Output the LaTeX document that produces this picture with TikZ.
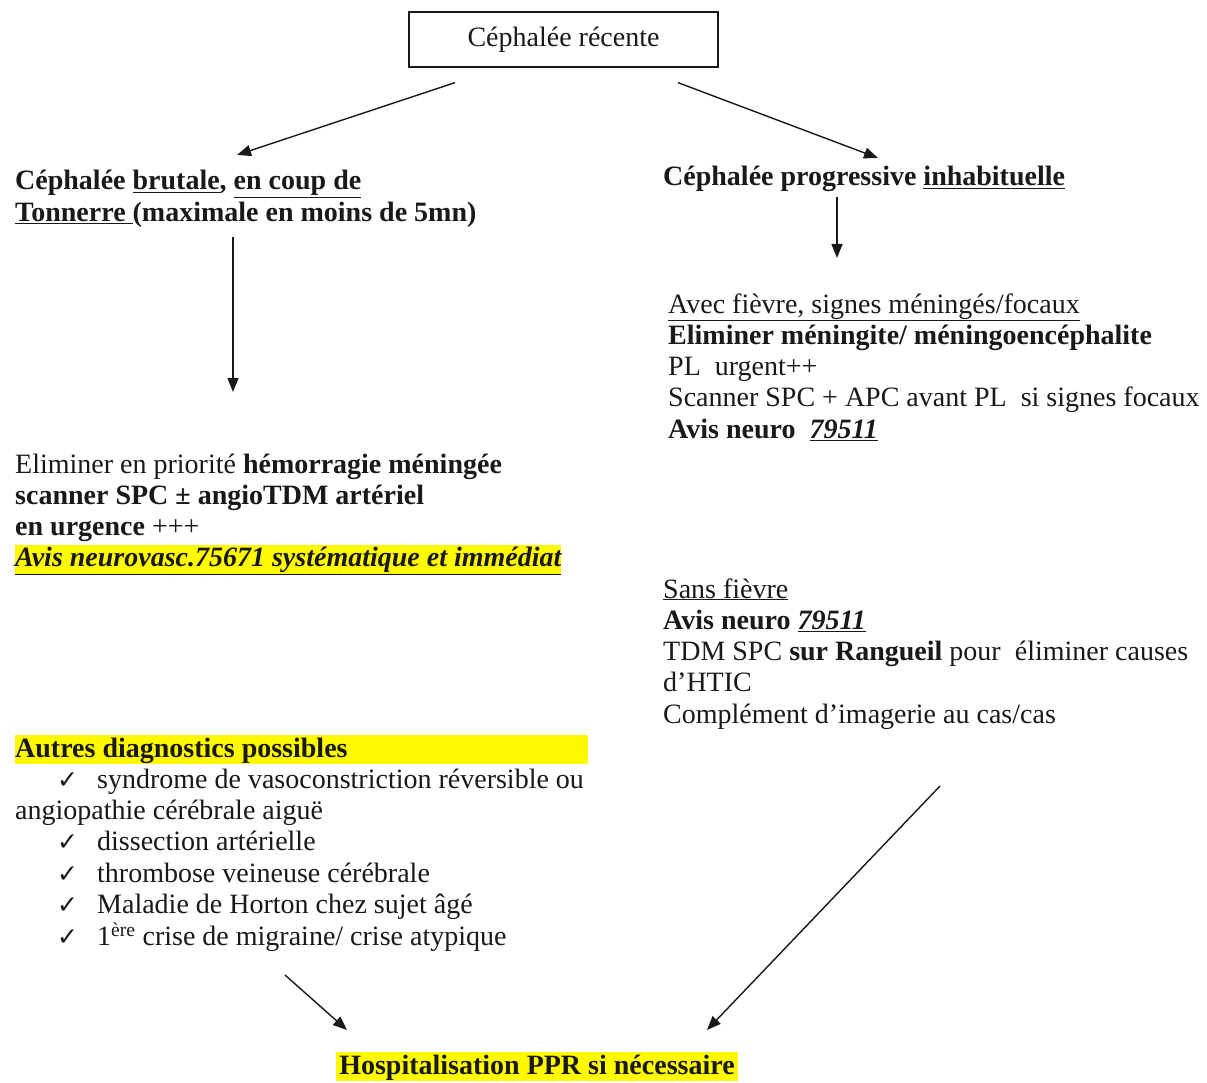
\documentclass[tikz,border=0pt]{standalone}
\usepackage{fontspec}
\setmainfont{Liberation Serif}
\newfontfamily\symfont{DejaVu Sans}
\usetikzlibrary{arrows.meta}
\definecolor{hlyellow}{RGB}{255,250,0}
\definecolor{ink}{RGB}{25,25,25}
% highlighted line
\newcommand\hlline[1]{{\setlength\fboxsep{0pt}\colorbox{hlyellow}{\rule[-7pt]{0pt}{29pt}#1}}}
% check-mark item
\newcommand\chk{\hspace*{42pt}\makebox[40pt][l]{\symfont\fontsize{25}{25}\selectfont ✓}}
\newcommand\blk[1]{\begin{tabular}[t]{@{}l@{}}#1\end{tabular}}
\begin{document}
\begin{tikzpicture}[x=1pt,y=-1pt,
  txt/.style={inner sep=0pt, anchor=base west, text=ink, font=\fontsize{28}{31.3}\selectfont},
  arr/.style={draw=ink, line width=1.4pt, -{Triangle[length=14pt,width=11pt]}}]
\useasboundingbox (0,0) rectangle (1207,1083);
\fill[white] (0,0) rectangle (1207,1083);

% top box
\node[draw=ink, line width=1.3pt, minimum width=309pt, minimum height=55pt, inner sep=0pt,
      text=ink, font=\fontsize{28}{31.3}\selectfont] (top) at (563.5,39.5) {Céphalée récente};

% sudden headache
\node[txt] (brut) at (15,190) {\blk{%
  \textbf{Céphalée \underline{brutale}, \underline{en coup de}}\\
  \textbf{\underline{Tonnerre\ }(maximale en moins de 5mn)}}};

% progressive headache
\node[txt] (prog) at (663,186) {\textbf{Céphalée progressive \underline{inhabituelle}}};

% with fever
\node[txt] (fievre) at (668,313) {\blk{%
  \underline{Avec fièvre, signes méningés/focaux}\\
  \textbf{Eliminer méningite/ méningoencéphalite}\\
  PL\ \ urgent++\\
  Scanner SPC + APC avant PL\ \ si signes focaux\\
  \textbf{Avis neuro\ \ \underline{\textit{79511}}}}};

% subarachnoid haemorrhage work-up
\node[txt] (hem) at (15,473) {\blk{%
  Eliminer en priorité \textbf{hémorragie méningée}\\
  \textbf{scanner SPC ± angioTDM artériel}\\
  \textbf{en urgence} +++\\
  \hlline{\textbf{\textit{\underline{Avis neurovasc.75671 systématique et immédiat}}}}}};

% without fever
\node[txt] (sans) at (663,598) {\blk{%
  \underline{Sans fièvre}\\
  \textbf{Avis neuro \underline{\textit{79511}}}\\
  TDM SPC \textbf{sur Rangueil} pour\ \ éliminer causes\\
  d’HTIC\\
  Complément d’imagerie au cas/cas}};

% differential diagnoses
\node[txt] (autres) at (15,757) {\blk{%
  \hlline{\makebox[573pt][l]{\textbf{Autres diagnostics possibles}}}\\
  \chk syndrome de vasoconstriction réversible ou\\
  angiopathie cérébrale aiguë\\
  \chk dissection artérielle\\
  \chk thrombose veineuse cérébrale\\
  \chk Maladie de Horton chez sujet âgé\\
  \chk 1\textsuperscript{ère} crise de migraine/ crise atypique}};

% hospitalisation
\node[inner sep=0pt, anchor=base, text=ink, font=\fontsize{28}{31.3}\selectfont] (hosp) at (537,1074)
  {\hlline{\hspace*{3pt}\textbf{Hospitalisation PPR si nécessaire}\hspace*{3pt}}};

% connectors
\draw[arr] ([xshift=-108.5pt,yshift=-15pt]top.south) -- ([xshift=222pt,yshift=35pt]brut.base west);
\draw[arr] ([xshift=114.5pt,yshift=-15pt]top.south) -- ([xshift=215pt,yshift=28pt]prog.base west);
\draw[arr] ([xshift=218pt,yshift=-47pt]brut.base west) -- ([xshift=218pt,yshift=81pt]hem.base west);
\draw[arr] ([xshift=174pt,yshift=-11pt]prog.base west) -- ([xshift=169pt,yshift=55pt]fievre.base west);
\draw[arr] ([xshift=270pt,yshift=-218pt]autres.base west) -- ([xshift=-190pt,yshift=44pt]hosp.base);
\draw[arr] ([xshift=277pt,yshift=-188pt]sans.base west) -- ([xshift=170pt,yshift=44pt]hosp.base);
\end{tikzpicture}
\end{document}
